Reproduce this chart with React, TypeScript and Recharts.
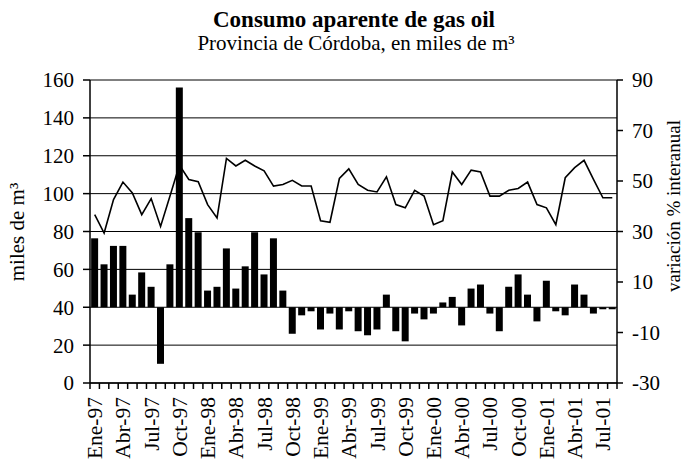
import { Bar, CartesianGrid, ComposedChart, Line, XAxis, YAxis } from "recharts";

const meses = [
  "Ene-97", "Feb-97", "Mar-97", "Abr-97", "May-97", "Jun-97", "Jul-97", "Ago-97", "Sep-97", "Oct-97", "Nov-97", "Dic-97",
  "Ene-98", "Feb-98", "Mar-98", "Abr-98", "May-98", "Jun-98", "Jul-98", "Ago-98", "Sep-98", "Oct-98", "Nov-98", "Dic-98",
  "Ene-99", "Feb-99", "Mar-99", "Abr-99", "May-99", "Jun-99", "Jul-99", "Ago-99", "Sep-99", "Oct-99", "Nov-99", "Dic-99",
  "Ene-00", "Feb-00", "Mar-00", "Abr-00", "May-00", "Jun-00", "Jul-00", "Ago-00", "Sep-00", "Oct-00", "Nov-00", "Dic-00",
  "Ene-01", "Feb-01", "Mar-01", "Abr-01", "May-01", "Jun-01", "Jul-01", "Ago-01",
];

// miles de m3 (eje izquierdo)
const consumo = [
  88.9, 79.2, 96.9, 106.1, 100.4, 88.9, 97.4, 82.7, 98.7, 115.1, 107.5, 106.3,
  94.2, 87.2, 118.6, 114.6, 117.6, 114.6, 112.0, 104.0, 104.8, 107.0, 104.0, 104.0,
  85.7, 84.9, 108.0, 113.1, 104.8, 101.8, 100.9, 108.9, 94.2, 92.5, 101.7, 98.7,
  83.6, 85.7, 111.4, 104.8, 112.4, 111.4, 98.7, 98.7, 101.8, 102.7, 106.1, 94.2,
  92.5, 83.6, 108.4, 113.7, 117.6, 107.5, 97.8, 97.8,
];

// variación % interanual (eje derecho)
const variacion = [
  27.3, 17.0, 24.3, 24.3, 5.0, 13.8, 8.1, -22.4, 17.0, 87.0, 35.3, 29.7,
  6.6, 8.1, 23.3, 7.4, 16.2, 29.7, 13.0, 27.3, 6.6, -10.5, -3.2, -1.6,
  -8.8, -2.5, -8.8, -1.6, -9.5, -11.1, -8.8, 5.0, -9.5, -13.5, -2.5, -4.8,
  -2.5, 1.9, 4.1, -7.2, 7.4, 9.0, -2.5, -9.5, 8.1, 13.0, 5.0, -5.6,
  10.5, -1.6, -3.2, 9.0, 5.0, -2.5, -0.8, -0.8,
];

const ticksIzq = [0, 20, 40, 60, 80, 100, 120, 140, 160];
const ticksDer = [-30, -10, 10, 30, 50, 70, 90];

const data = meses.map((mes, i) => ({ mes, consumo: consumo[i], variacion: variacion[i] }));

const serif = "'Liberation Serif', 'Times New Roman', serif";

function MesTick(props: any) {
  const { x, y, payload, index } = props;
  const off = payload?.offset ?? 0;
  const ty = y + 14;
  return (
    <g>
      <line x1={x - off} x2={x - off} y1={y} y2={y + 6} stroke="#000" strokeWidth={1.5} />
      {index === meses.length - 1 && (
        <line x1={x + off} x2={x + off} y1={y} y2={y + 6} stroke="#000" strokeWidth={1.5} />
      )}
      {index % 3 === 0 && (
        <text
          x={x}
          y={ty}
          dy="0.35em"
          transform={`rotate(-90 ${x} ${ty})`}
          textAnchor="end"
          style={{ fontFamily: serif, fontSize: 21.5 }}
          fill="#000"
        >
          {payload.value}
        </text>
      )}
    </g>
  );
}

export default function App() {
  const tickStyle = { fill: "#000", fontSize: 21, style: { fontFamily: serif } };
  return (
    <div
      style={{
        position: "absolute",
        left: 0,
        top: 0,
        width: 683,
        height: 462,
        background: "#fff",
        fontFamily: serif,
      }}
    >
      <ComposedChart
        width={683}
        height={462}
        data={data}
        margin={{ top: 80, right: 0, bottom: 0, left: 0 }}
        barCategoryGap="12%"
        style={{ fontFamily: serif }}
      >
        <CartesianGrid yAxisId="izq" vertical={false} stroke="#000" strokeWidth={1} />
        <XAxis
          dataKey="mes"
          interval={0}
          height={79}
          tickSize={0}
          tickMargin={0}
          tickLine={false}
          axisLine={{ stroke: "#000", strokeWidth: 1.5 }}
          tick={MesTick}
        />
        <YAxis
          yAxisId="izq"
          domain={[0, 160]}
          ticks={ticksIzq}
          interval={0}
          width={90}
          tickSize={7}
          tickMargin={9}
          axisLine={{ stroke: "#000", strokeWidth: 1.5 }}
          tickLine={{ stroke: "#000", strokeWidth: 1.5 }}
          tick={tickStyle}
        />
        <YAxis
          yAxisId="der"
          orientation="right"
          domain={[-30, 90]}
          ticks={ticksDer}
          interval={0}
          width={66}
          tickSize={6}
          tickMargin={9}
          axisLine={{ stroke: "#000", strokeWidth: 1.5 }}
          tickLine={{ stroke: "#000", strokeWidth: 1.5 }}
          tick={tickStyle}
        />
        <Bar yAxisId="der" dataKey="variacion" fill="#000" isAnimationActive={false} />
        <Line
          yAxisId="izq"
          type="linear"
          dataKey="consumo"
          stroke="#000"
          strokeWidth={1.6}
          dot={false}
          isAnimationActive={false}
        />
      </ComposedChart>
      <svg
        width={683}
        height={462}
        style={{ position: "absolute", left: 0, top: 0, pointerEvents: "none", fontFamily: serif }}
      >
        <text x={354} y={27} textAnchor="middle" fontSize={23} fontWeight="bold" fill="#000">
          Consumo aparente de gas oil
        </text>
        <text x={356} y={50} textAnchor="middle" fontSize={21} fill="#000">
          Provincia de Córdoba, en miles de m³
        </text>
        <text x={24} y={232} textAnchor="middle" fontSize={21} fill="#000" transform="rotate(-90 24 232)">
          miles de m³
        </text>
        <text x={680} y={206} textAnchor="middle" fontSize={19} fill="#000" transform="rotate(-90 680 206)">
          variación % interanual
        </text>
      </svg>
    </div>
  );
}
